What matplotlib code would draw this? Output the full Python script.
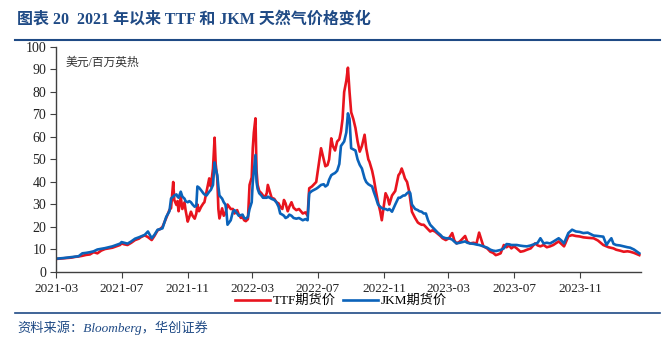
import matplotlib
matplotlib.use("Agg")
import matplotlib.pyplot as plt
import matplotlib.dates as mdates
from matplotlib.lines import Line2D
import pandas as pd

plt.rcParams['font.family'] = ['Liberation Serif', 'Noto Sans CJK SC', 'DejaVu Sans']

# 日期 / TTF / JKM (美元/百万英热)
dates = [
    "2021-03-01", "2021-03-15", "2021-03-30", "2021-04-05", "2021-04-12", "2021-04-19",
    "2021-04-26", "2021-05-03", "2021-05-10", "2021-05-17", "2021-05-24", "2021-05-31",
    "2021-06-07", "2021-06-14", "2021-06-21", "2021-06-28", "2021-07-01", "2021-07-06",
    "2021-07-12", "2021-07-19", "2021-07-26", "2021-08-02", "2021-08-06", "2021-08-13",
    "2021-08-19", "2021-08-26", "2021-08-31", "2021-09-06", "2021-09-10", "2021-09-15",
    "2021-09-22", "2021-09-28", "2021-10-01", "2021-10-05", "2021-10-07", "2021-10-11",
    "2021-10-13", "2021-10-15", "2021-10-19", "2021-10-22", "2021-10-26", "2021-10-28",
    "2021-11-01", "2021-11-04", "2021-11-07", "2021-11-10", "2021-11-14", "2021-11-17",
    "2021-11-19", "2021-11-22", "2021-11-26", "2021-11-30", "2021-12-02", "2021-12-06",
    "2021-12-11", "2021-12-14", "2021-12-18", "2021-12-21", "2021-12-23", "2021-12-26",
    "2021-12-28", "2021-12-30", "2022-01-04", "2022-01-07", "2022-01-10", "2022-01-12",
    "2022-01-14", "2022-01-17", "2022-01-20", "2022-01-24", "2022-01-27", "2022-02-01",
    "2022-02-04", "2022-02-08", "2022-02-11", "2022-02-14", "2022-02-17", "2022-02-21",
    "2022-02-24", "2022-02-28", "2022-03-02", "2022-03-04", "2022-03-07", "2022-03-09",
    "2022-03-11", "2022-03-14", "2022-03-18", "2022-03-21", "2022-03-24", "2022-03-28",
    "2022-03-30", "2022-04-06", "2022-04-11", "2022-04-15", "2022-04-19", "2022-04-22",
    "2022-04-26", "2022-04-29", "2022-05-02", "2022-05-06", "2022-05-09", "2022-05-13",
    "2022-05-17", "2022-05-22", "2022-05-27", "2022-06-03", "2022-06-08", "2022-06-12",
    "2022-06-15", "2022-06-20", "2022-06-24", "2022-06-28", "2022-07-01", "2022-07-07",
    "2022-07-12", "2022-07-15", "2022-07-19", "2022-07-22", "2022-07-26", "2022-07-29",
    "2022-08-02", "2022-08-06", "2022-08-10", "2022-08-13", "2022-08-16", "2022-08-19",
    "2022-08-23", "2022-08-26", "2022-08-29", "2022-09-01", "2022-09-05", "2022-09-09",
    "2022-09-13", "2022-09-17", "2022-09-21", "2022-09-26", "2022-09-29", "2022-10-03",
    "2022-10-05", "2022-10-10", "2022-10-13", "2022-10-17", "2022-10-21", "2022-10-25",
    "2022-10-28", "2022-11-01", "2022-11-04", "2022-11-08", "2022-11-11", "2022-11-16",
    "2022-11-22", "2022-11-28", "2022-12-01", "2022-12-04", "2022-12-07", "2022-12-10",
    "2022-12-14", "2022-12-18", "2022-12-20", "2022-12-23", "2022-12-29", "2023-01-03",
    "2023-01-06", "2023-01-10", "2023-01-14", "2023-01-18", "2023-01-22", "2023-01-26",
    "2023-01-30", "2023-02-04", "2023-02-09", "2023-02-14", "2023-02-18", "2023-02-24",
    "2023-03-02", "2023-03-08", "2023-03-12", "2023-03-16", "2023-03-22", "2023-04-01",
    "2023-04-05", "2023-04-10", "2023-04-17", "2023-04-22", "2023-04-27", "2023-05-05",
    "2023-05-12", "2023-05-18", "2023-05-23", "2023-05-28", "2023-06-01", "2023-06-06",
    "2023-06-12", "2023-06-17", "2023-06-22", "2023-06-26", "2023-07-01", "2023-07-06",
    "2023-07-13", "2023-07-19", "2023-07-25", "2023-08-01", "2023-08-09", "2023-08-14",
    "2023-08-19", "2023-08-25", "2023-08-31", "2023-09-06", "2023-09-12", "2023-09-22",
    "2023-09-27", "2023-10-02", "2023-10-05", "2023-10-10", "2023-10-17", "2023-10-24",
    "2023-10-31", "2023-11-07", "2023-11-15", "2023-11-26", "2023-12-04", "2023-12-14",
    "2023-12-20", "2023-12-24", "2023-12-29", "2024-01-02", "2024-01-07", "2024-01-14",
    "2024-01-21", "2024-01-28", "2024-02-02", "2024-02-09", "2024-02-19",
]
ttf = [
    5.8, 6.1, 6.4, 6.7, 6.9, 7.2,
    7.6, 7.8, 8.8, 8.3, 9.5, 10.2,
    10.5, 10.8, 11.4, 12.0, 12.7, 12.3,
    12.0, 13.0, 14.2, 14.8, 15.5, 16.3,
    15.5, 14.2, 16.0, 18.5, 19.0, 20.0,
    24.0, 27.6, 28.4, 40.0, 32.0, 29.8,
    31.5, 27.0, 33.5, 28.0, 31.0, 27.5,
    22.4, 24.5, 26.8, 25.0, 23.7, 26.0,
    30.0, 27.0, 29.0, 30.5, 31.0, 35.7,
    41.6, 38.0, 46.0, 59.7, 48.0, 41.6,
    28.0, 23.8, 28.3, 25.0, 26.0, 28.0,
    30.0, 29.0, 28.0, 28.0, 26.0, 27.5,
    25.5, 24.0, 24.5, 23.0, 22.6, 23.5,
    38.7, 42.0, 55.0, 62.0, 68.3, 45.0,
    38.7, 36.0, 35.0, 34.0, 33.0, 35.0,
    38.7, 33.0, 32.5, 31.0, 30.5, 29.0,
    28.0, 32.0, 30.5, 27.0, 29.0, 31.0,
    28.5, 27.5, 28.0, 26.0, 26.5, 25.0,
    37.2, 38.0, 39.0, 40.0, 45.0, 55.0,
    50.0, 47.0, 47.5, 50.0, 59.4, 56.0,
    54.0, 58.0, 59.0, 62.4, 68.0, 80.0,
    85.0, 90.8, 80.0, 71.0, 68.0, 64.0,
    58.0, 53.5, 56.0, 61.0, 55.0, 50.0,
    49.0, 45.0, 41.6, 36.0, 31.0, 27.0,
    23.0, 30.0, 35.0, 33.0, 30.0, 34.0,
    36.0, 43.0, 44.0, 46.0, 44.0, 41.6,
    40.0, 35.7, 32.0, 26.8, 24.0, 22.0,
    21.5, 21.0, 21.0, 20.0, 19.0, 18.0,
    18.5, 18.0, 17.0, 16.0, 15.0, 14.2,
    15.0, 17.3, 14.0, 12.7, 13.5, 16.0,
    13.5, 12.7, 13.0, 12.5, 17.5, 11.4,
    10.5, 9.0, 8.5, 7.5, 7.8, 8.3,
    12.0, 11.0, 11.8, 10.5, 11.4, 10.5,
    9.0, 9.3, 9.9, 10.5, 12.7, 11.8,
    11.4, 12.0, 11.0, 11.4, 12.0, 13.6,
    12.5, 11.4, 13.0, 15.9, 16.4, 16.0,
    15.8, 15.4, 15.2, 15.0, 14.0, 12.0,
    11.4, 11.0, 10.7, 10.5, 9.9, 9.5,
    9.0, 9.2, 9.0, 8.5, 7.5,
]
jkm = [
    5.9, 6.2, 6.6, 6.8, 7.0, 8.3,
    8.5, 8.8, 9.2, 10.0, 10.3, 10.6,
    11.0, 11.4, 12.0, 12.6, 13.3, 13.0,
    12.6, 13.6, 14.8, 15.4, 15.8, 16.5,
    18.0, 15.0, 16.5, 18.8, 19.0, 19.4,
    24.5, 27.0, 32.7, 33.5, 34.0, 34.5,
    33.5, 33.0, 35.7, 33.5, 32.6, 31.5,
    31.0, 31.5, 31.0, 30.0, 29.0, 29.5,
    38.0, 37.5, 36.3, 35.0, 34.5, 34.0,
    35.7, 36.5, 38.7, 48.7, 46.0, 43.0,
    38.0, 34.0, 32.6, 31.0, 30.0, 27.0,
    21.0, 22.0, 23.0, 26.8, 27.5, 26.0,
    25.0, 25.3, 25.5, 24.0, 23.7, 24.5,
    28.0, 31.0, 40.0, 45.0, 52.0, 40.0,
    37.0, 35.0, 34.0, 33.0, 33.0, 33.0,
    33.5, 32.5, 32.0, 31.0, 29.0, 26.0,
    25.5, 25.0, 24.0, 24.5, 25.5, 25.0,
    24.0, 23.7, 24.0, 23.0, 23.5, 23.0,
    35.0, 36.0, 36.5, 37.0, 37.5, 38.7,
    39.0, 38.0, 38.7, 41.0, 43.0, 43.5,
    44.0, 45.0, 48.0, 56.0, 57.0, 58.0,
    62.0, 70.5, 68.0, 55.0, 54.5, 54.0,
    50.0, 47.6, 46.0, 41.6, 40.0, 39.0,
    38.7, 38.0, 35.7, 33.0, 30.0, 29.0,
    28.4, 28.0, 28.0, 27.5, 28.0, 26.8,
    30.0, 33.0, 33.0, 33.5, 34.0, 34.0,
    35.0, 35.7, 35.0, 30.0, 28.0, 27.5,
    27.0, 26.8, 26.0, 26.0, 23.0, 21.0,
    20.0, 18.8, 17.5, 16.5, 15.5, 15.0,
    15.0, 14.4, 13.5, 12.7, 13.0, 13.6,
    13.0, 12.7, 12.5, 12.2, 12.0, 11.4,
    10.8, 9.9, 9.5, 9.3, 9.5, 9.8,
    10.5, 12.4, 12.3, 12.0, 12.0, 12.0,
    11.7, 11.5, 11.4, 11.8, 12.5, 13.0,
    15.0, 12.7, 13.0, 12.7, 13.5, 15.0,
    14.0, 12.7, 14.5, 17.3, 18.8, 18.0,
    17.8, 17.3, 17.5, 16.2, 16.0, 15.7,
    12.0, 13.5, 15.0, 12.5, 12.0, 11.8,
    11.4, 11.0, 10.8, 10.0, 8.3,
]
assert len(dates) == len(ttf) == len(jkm)

x = pd.to_datetime(dates)
red = '#E8141E'
blue = '#0B63BA'
navy = '#1F4A85'

fig = plt.figure(figsize=(6.7, 3.43), dpi=100)
ax = fig.add_axes([0.0836, 0.207, 0.873, 0.656])

ax.plot(x, ttf, color=red, lw=1.9, label='TTF期货价')
ax.plot(x, jkm, color=blue, lw=1.9, label='JKM期货价')

ax.set_ylim(0, 100)
ax.set_yticks(range(0, 101, 10))
ax.set_xlim(pd.Timestamp('2021-03-01'), pd.Timestamp('2024-02-22'))
ax.xaxis.set_major_locator(mdates.MonthLocator(bymonth=[3, 7, 11]))
ax.xaxis.set_major_formatter(mdates.DateFormatter('%Y-%m'))

for s in ['top', 'right']:
    ax.spines[s].set_visible(False)
for s in ['left', 'bottom']:
    ax.spines[s].set_color('#404040')
    ax.spines[s].set_linewidth(1.0)
ax.tick_params(axis='both', direction='out', length=4, color='#404040',
               labelsize=10, labelcolor='#222222', pad=3)
ax.tick_params(axis='x', labelsize=9.5, pad=4)

ax.text(0.017, 0.93, '美元/百万英热', transform=ax.transAxes, fontsize=8.5,
        color='#333333', va='center', ha='left')

fig.legend(loc='center', bbox_to_anchor=(341 / 670, 1 - 301 / 343), ncol=2,
           frameon=False, fontsize=9.5, handlelength=2.6, handletextpad=0.2,
           columnspacing=0.6)

fig.text(17 / 670, 1 - 20 / 343, '图表 20  2021 年以来 TTF 和 JKM 天然气价格变化',
         fontsize=11.5, fontweight='bold', color=navy, va='center', ha='left')
fig.add_artist(Line2D([15 / 670, 660 / 670], [1 - 40 / 343, 1 - 40 / 343],
                      color=navy, lw=1.5))
fig.add_artist(Line2D([15 / 670, 660 / 670], [1 - 313 / 343, 1 - 313 / 343],
                      color=navy, lw=1.2))
fig.text(17 / 670, 1 - 328 / 343, '资料来源：Bloomberg，华创证券', fontsize=9.5,
         style='italic', color=navy, va='center', ha='left')

fig.savefig('out.png', dpi=100)
